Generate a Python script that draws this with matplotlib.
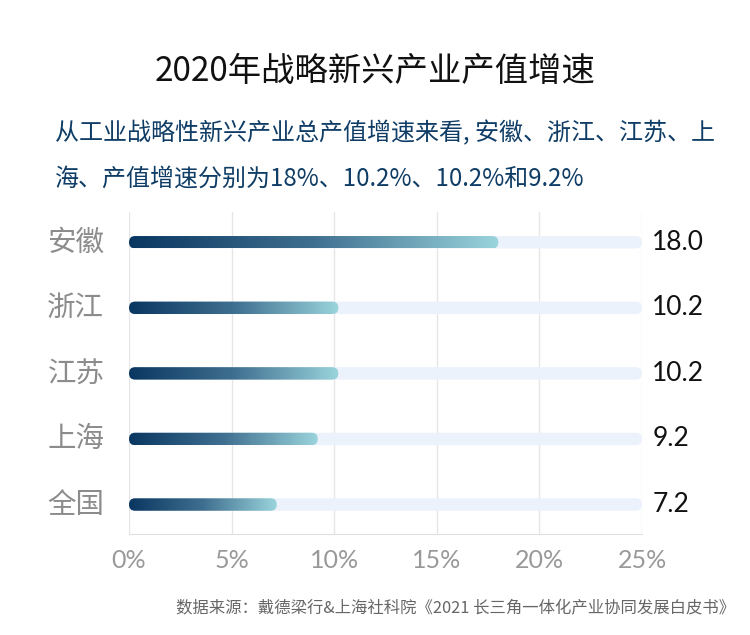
import numpy as np
import matplotlib.pyplot as plt
from matplotlib.patches import FancyBboxPatch
from matplotlib.colors import LinearSegmentedColormap

plt.rcParams['font.family'] = ['Noto Sans CJK SC', 'DejaVu Sans']

# data
regions = ['安徽', '浙江', '江苏', '上海', '全国']
growth = [18.0, 10.2, 10.2, 9.2, 7.2]
xticks = [0, 5, 10, 15, 20, 25]
xmax = 25

title = '2020年战略新兴产业产值增速'
subtitle = ['从工业战略性新兴产业总产值增速来看, 安徽、浙江、江苏、上',
            '海、产值增速分别为18%、10.2%、10.2%和9.2%']
source = '数据来源：戴德梁行&上海社科院《2021 长三角一体化产业协同发展白皮书》'

fig = plt.figure(figsize=(7.5, 6.35), dpi=100)
ax = fig.add_axes([0.172, 0.159, 0.684, 0.507])
ax.set_xlim(0, xmax)
ax.set_ylim(len(regions) - 0.55, -0.46)

# aspect for rounded ends
bb = ax.get_window_extent()
px_x = bb.width / xmax
px_y = bb.height / (len(regions) + 0.01)
aspect = px_x / px_y

cmap = LinearSegmentedColormap.from_list('bar', ['#0a3761', '#3f6f90', '#9ad4dc'])
h = 0.19
grad = np.linspace(0, 1, 256).reshape(1, -1)

for i, v in enumerate(growth):
    bg = FancyBboxPatch((0, i - h / 2), xmax, h,
                        boxstyle='round,pad=0,rounding_size=%f' % (h / 2 / aspect),
                        mutation_aspect=aspect, fc='#ebf2fb', ec='none', zorder=2)
    ax.add_patch(bg)
    clip = FancyBboxPatch((0, i - h / 2), v, h,
                          boxstyle='round,pad=0,rounding_size=%f' % (h / 2 / aspect),
                          mutation_aspect=aspect, fc='none', ec='none', zorder=3)
    ax.add_patch(clip)
    im = ax.imshow(grad, cmap=cmap, aspect='auto', extent=(0, v, i + h / 2, i - h / 2),
                   zorder=3, interpolation='bicubic')
    im.set_clip_path(clip)
    ax.text(xmax + 0.5, i, '%.1f' % v, va='center', ha='left', fontsize=19,
            color='#111111', family=['Lato', 'DejaVu Sans'])
    ax.text(-1.2, i, regions[i], va='center', ha='right', fontsize=20.5,
            color='#8c8c8c', fontweight='light')

ax.set_xticks(xticks)
ax.set_xticklabels(['%d%%' % t for t in xticks], fontsize=18, color='#999999',
                   family=['Lato', 'DejaVu Sans'])
ax.set_yticks([])
ax.tick_params(axis='x', length=0, pad=11)
ax.grid(axis='x', color='#e6e6e6', lw=1, zorder=0)
for s in ['top', 'left', 'right']:
    ax.spines[s].set_visible(False)
ax.spines['bottom'].set_color('#e0e0e0')

fig.text(0.5, 0.888, title, ha='center', va='center', fontsize=24, color='#111111')
fig.text(0.073, 0.79, subtitle[0], ha='left', va='center', fontsize=17.3, color='#0f3d66')
fig.text(0.073, 0.719, subtitle[1], ha='left', va='center', fontsize=17.3, color='#0f3d66')
fig.text(0.98, 0.042, source, ha='right', va='center', fontsize=11.8, color='#666666')

fig.savefig('out.png', dpi=100)
